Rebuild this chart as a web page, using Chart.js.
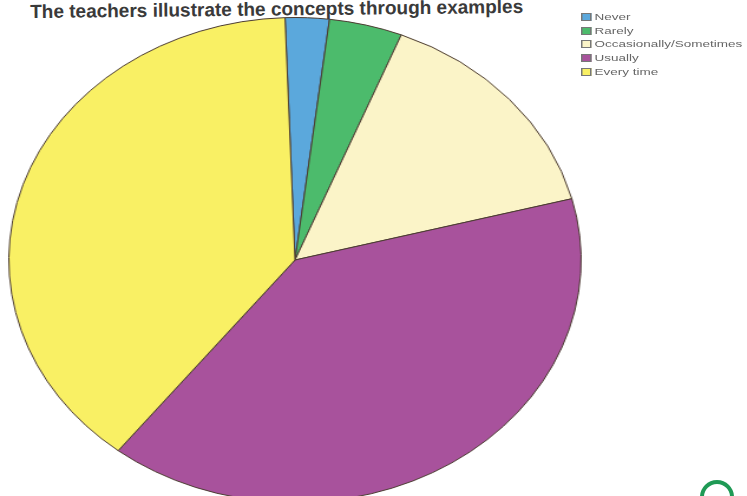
<!DOCTYPE html>
<html>
<head>
<meta charset="utf-8">
<script src="https://cdn.jsdelivr.net/npm/chart.js@4"></script>
<style>
  body { margin: 0; background: #fff; width: 747px; height: 496px; overflow: hidden; position: relative; font-family: "Liberation Sans", Arial, sans-serif; }
  #title { position: absolute; left: 30px; top: 1px; font-size: 19px; font-weight: bold; color: #3a3a3a; white-space: nowrap; transform: rotate(-0.6deg); transform-origin: left top; }
  #pieWrap { position: absolute; left: 52px; top: 17px; width: 486px; height: 486px; transform: scaleX(1.18); transform-origin: center; }
  #legend { position: absolute; left: 581px; top: 10px; transform: scale(1.5, 1); transform-origin: left top; }
  .item { height: 13.7px; font-size: 9px; color: #666; white-space: nowrap; display: flex; align-items: center; }
  .box { width: 5px; height: 6px; border: 1px solid #777; margin-right: 2px; }
  #ring { position: absolute; left: 700px; top: 480px; width: 26px; height: 26px; border: 4px solid #1f9a55; border-radius: 50%; }
</style>
</head>
<body>
<div id="title">The teachers illustrate the concepts through examples</div>
<div id="pieWrap"><canvas id="pie"></canvas></div>
<div id="legend"></div>
<div id="ring"></div>
<script>
const labels = ['Never', 'Rarely', 'Occasionally/Sometimes', 'Usually', 'Every time'];
const counts = [3, 5, 18, 48, 47];
const colors = ['#5ba8dc', '#4cbb6c', '#fbf4c8', '#a8529c', '#f9f064'];

// legend built by hand so the stretched pie doesn't stretch it too
const legend = document.getElementById('legend');
labels.forEach((l, i) => {
  const row = document.createElement('div');
  row.className = 'item';
  row.innerHTML = '<span class="box" style="background:' + colors[i] + '"></span>' + l;
  legend.appendChild(row);
});

new Chart(document.getElementById('pie'), {
  type: 'pie',
  data: {
    labels: labels,
    datasets: [{
      data: counts,
      backgroundColor: colors,
      borderColor: '#4a3a30',
      borderWidth: 1
    }]
  },
  options: {
    responsive: true,
    maintainAspectRatio: false,
    animation: false,
    rotation: -2,
    layout: { padding: 0 },
    plugins: { legend: { display: false }, tooltip: { enabled: false } }
  }
});
</script>
</body>
</html>
